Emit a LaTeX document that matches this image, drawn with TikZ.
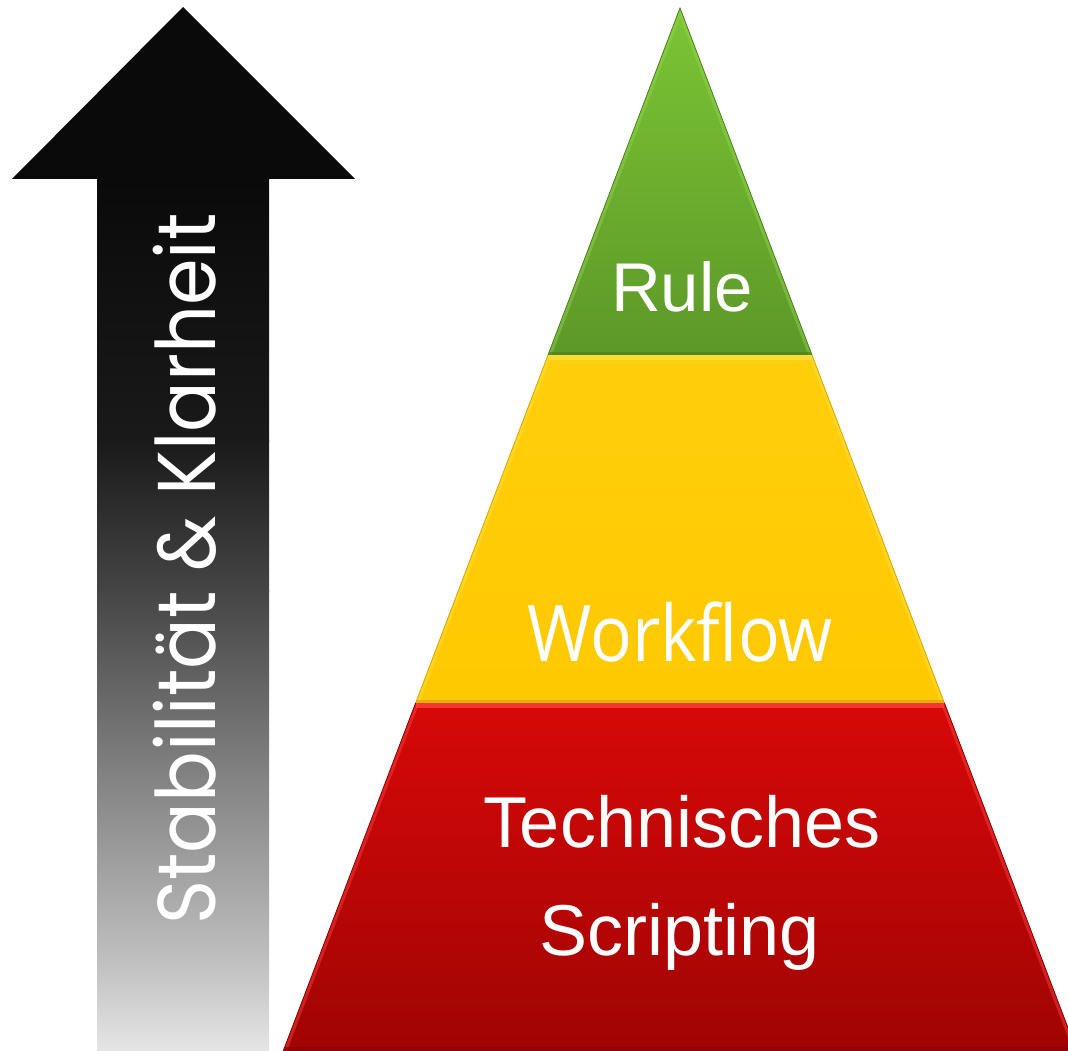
\documentclass[tikz,border=0pt]{standalone}
\usepackage{fontspec}
\setmainfont{Liberation Sans}
\newfontfamily\wffont{Open Sans}
\newfontfamily\axisfont{Poppins}
\usetikzlibrary{calc}

\definecolor{arrowblack}{HTML}{0A0A0A}
\definecolor{greenTop}{HTML}{7CC534}
\definecolor{greenBot}{HTML}{5C9828}
\definecolor{greenHi}{HTML}{95D64E}
\definecolor{greenLo}{HTML}{4A8020}
\definecolor{yelTop}{HTML}{FFCE0C}
\definecolor{yelBot}{HTML}{FFC900}
\definecolor{yelHi}{HTML}{FFE040}
\definecolor{yelLo}{HTML}{D9A500}
\definecolor{redTop}{HTML}{D80808}
\definecolor{redBot}{HTML}{A00404}
\definecolor{redHi}{HTML}{FF4444}
\definecolor{redLo}{HTML}{880000}

\tikzset{
  lbl/.style={text=white, inner sep=0pt},
  rimlight/.style={line width=7pt, opacity=0.45},
  rimdark/.style={line width=7pt, opacity=0.7},
}

\begin{document}
\begin{tikzpicture}[x=1pt,y=-1pt]
\useasboundingbox (0,0) rectangle (1068,1051);
\clip (0,0) rectangle (1068,1051);

% ---------- rising arrow ----------
\begin{scope}
  \clip (183,7) -- (355,179) -- (269,179) -- (269,1052) -- (97,1052)
        -- (97,179) -- (12,179) -- cycle;
  \fill[arrowblack] (0,0) rectangle (400,180);
  \shade[top color=arrowblack, bottom color=black!90] (90,179) rectangle (280,441);
  \shade[top color=black!90, bottom color=black!73] (90,440) rectangle (280,591);
  \shade[top color=black!73, bottom color=black!25] (90,590) rectangle (280,961);
  \shade[top color=black!25, bottom color=black!10] (90,960) rectangle (280,1052);
\end{scope}

\node[lbl, rotate=90, anchor=base, font=\axisfont\fontsize{82}{95}\selectfont]
  (axis) at (215,569) {\scalebox{0.915}[1]{Stabilität \& Klarheit}};

% ---------- pyramid ----------
\coordinate (A)  at (680,8);
\coordinate (GL) at (548,355);
\coordinate (GR) at (812,355);
\coordinate (YL) at (415.6,703);
\coordinate (YR) at (944.4,703);
\coordinate (RL) at (283.2,1051);
\coordinate (RR) at (1076.8,1051);

% green tier
\begin{scope}
  \clip (A) -- (GR) -- (GL) -- cycle;
  \shade[top color=greenTop, bottom color=greenBot] (A) -- (GR) -- (GL) -- cycle;
  \draw[rimlight, greenHi] (GL) -- (A) -- (GR);
  \draw[rimdark, greenLo] (GL) -- (GR);
\end{scope}
\draw[greenLo, line width=0.8pt] (GL) -- (A) -- (GR);

% yellow tier
\begin{scope}
  \clip (GL) -- (GR) -- (YR) -- (YL) -- cycle;
  \shade[top color=yelTop, bottom color=yelBot] (GL) -- (GR) -- (YR) -- (YL) -- cycle;
  \draw[line width=9pt, yelHi, opacity=0.8] (GL) -- (GR);
  \draw[rimlight, yelHi] (YL) -- (GL) (GR) -- (YR);
  \draw[rimdark, yelLo] (YL) -- (YR);
\end{scope}
\draw[yelLo, line width=0.8pt] (YL) -- (GL) (GR) -- (YR);

% red tier
\begin{scope}
  \clip (YL) -- (YR) -- (RR) -- (RL) -- cycle;
  \shade[top color=redTop, bottom color=redBot] (YL) -- (YR) -- (RR) -- (RL) -- cycle;
  \draw[line width=10pt, redHi, opacity=0.75] (YL) -- (YR);
  \draw[rimlight, redHi] (RL) -- (YL) (YR) -- (RR);
  \draw[line width=9pt, redLo, opacity=0.6] (RL) -- (RR);
\end{scope}
\draw[redLo, line width=0.8pt] (RL) -- (YL) (YR) -- (RR);

% ---------- tier labels ----------
\node[lbl, anchor=base, font=\fontsize{69}{80}\selectfont] (rule) at (682,311) {Rule};
\node[lbl, anchor=base, font=\wffont\fontsize{78}{90}\selectfont] (workflow) at (680,661)
  {\scalebox{0.89}[1]{Workflow}};
\node[lbl, anchor=base, font=\fontsize{72}{80}\selectfont] (tech) at (682,847) {Technisches};
\node[lbl, anchor=base, font=\fontsize{72}{80}\selectfont] (scripting) at (680,955) {Scripting};
\end{tikzpicture}
\end{document}
